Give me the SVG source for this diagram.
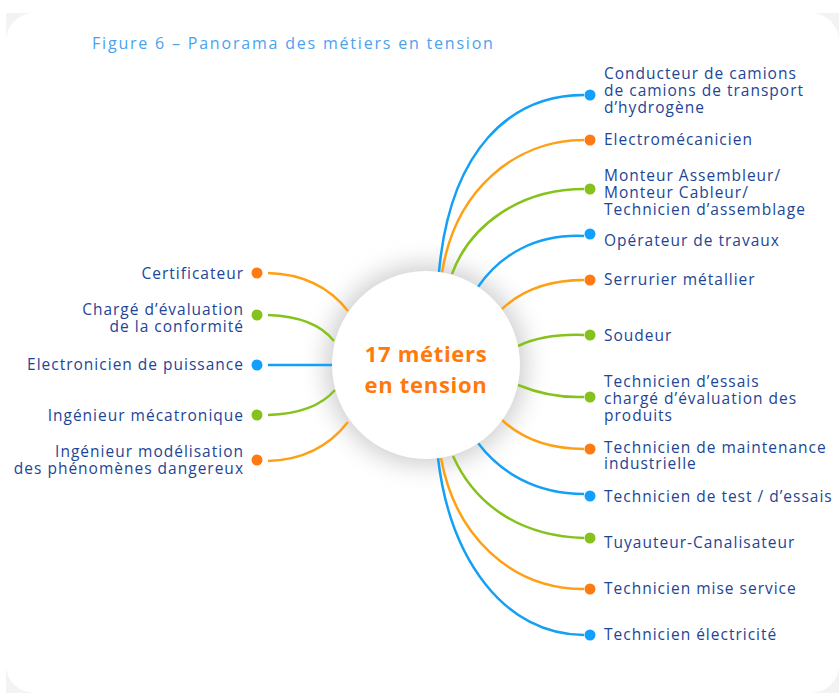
<svg xmlns="http://www.w3.org/2000/svg" width="839" height="693" viewBox="0 0 839 693">
  <defs>
    <style>
      .lbl { font-family: "Open Sans", "Liberation Sans", sans-serif; font-size: 15.5px; letter-spacing: 1px; fill: #1d4596; }
      .lbl-l { text-anchor: end; }
      .title { font-family: "Open Sans", "Liberation Sans", sans-serif; font-size: 16px; letter-spacing: 1.8px; fill: #4aa2ee; }
      .hub { font-family: "Open Sans", "Liberation Sans", sans-serif; font-size: 22px; font-weight: 700; letter-spacing: 0.7px; fill: #ff7a0a; text-anchor: middle; }
      .ln { fill: none; stroke-width: 2.5; }
      .b { stroke: #14a0f5; }
      .o { stroke: #ffa014; }
      .g { stroke: #85c21c; }
      .db { fill: #12a0ff; }
      .do { fill: #ff7a12; }
      .dg { fill: #85c21c; }
    </style>
    <filter id="hubShadow" x="-50%" y="-50%" width="200%" height="200%">
      <feGaussianBlur stdDeviation="12"/>
    </filter>
  </defs>

  <!-- page background and card -->
  <rect x="6" y="13" width="833" height="680" fill="#f3f3f3"/>
  <rect x="6" y="13" width="833" height="680" rx="28" fill="#ffffff"/>

  <text class="title" x="92" y="49">Figure 6 – Panorama des métiers en tension</text>

  <!-- soft halo behind the hub -->
  <circle cx="426" cy="365" r="100" fill="#cdcdcd" filter="url(#hubShadow)"/>

  <g id="connectors">
    <!-- right side -->
    <path class="ln b" d="M584,95 C510,95 450,150 439,272"/>
    <path class="ln o" d="M584,140 C515,140 455,190 442,273"/>
    <path class="ln g" d="M584,189 C520,189 470,225 452,274"/>
    <path class="ln b" d="M584,236 C535,234 500,255 478,287"/>
    <path class="ln o" d="M584,280 C545,280 520,292 502,309"/>
    <path class="ln g" d="M584,335 C555,334 535,338 518,346"/>
    <path class="ln g" d="M584,397 C555,398 535,392 518,385"/>
    <path class="ln o" d="M584,449 C545,449 520,437 502,420"/>
    <path class="ln b" d="M584,494 C535,494 500,472 478,443"/>
    <path class="ln g" d="M584,538 C520,536 475,505 453,456"/>
    <path class="ln o" d="M584,589 C510,589 455,535 441,458"/>
    <path class="ln b" d="M584,635 C505,635 450,560 438,458"/>
    <!-- left side -->
    <path class="ln o" d="M268,273 C305,274 330,288 348,311"/>
    <path class="ln g" d="M268,315 C300,316 322,326 334,341"/>
    <path class="ln b" d="M268,365 L334,365"/>
    <path class="ln g" d="M268,415 C300,414 322,405 335,390"/>
    <path class="ln o" d="M268,461 C305,460 330,445 348,422"/>
  </g>

  <g id="hub">
    <circle cx="426" cy="365" r="94" fill="#ffffff"/>
    <text class="hub" x="426" y="362">17 métiers</text>
    <text class="hub" x="426" y="393">en tension</text>
  </g>

  <!-- right-hand occupations -->
  <g id="n-conducteur">
    <circle class="db" cx="590" cy="95" r="5.5"/>
    <text class="lbl" x="604" y="79">Conducteur de camions</text>
    <text class="lbl" x="604" y="96">de camions de transport</text>
    <text class="lbl" x="604" y="113">d’hydrogène</text>
  </g>
  <g id="n-electromecanicien">
    <circle class="do" cx="590" cy="140" r="5.5"/>
    <text class="lbl" x="604" y="145">Electromécanicien</text>
  </g>
  <g id="n-monteur">
    <circle class="dg" cx="590" cy="189" r="5.5"/>
    <text class="lbl" x="604" y="181">Monteur Assembleur/</text>
    <text class="lbl" x="604" y="198">Monteur Cableur/</text>
    <text class="lbl" x="604" y="215">Technicien d’assemblage</text>
  </g>
  <g id="n-operateur">
    <circle class="db" cx="590" cy="234" r="5.5"/>
    <text class="lbl" x="604" y="246">Opérateur de travaux</text>
  </g>
  <g id="n-serrurier">
    <circle class="do" cx="590" cy="280" r="5.5"/>
    <text class="lbl" x="604" y="285">Serrurier métallier</text>
  </g>
  <g id="n-soudeur">
    <circle class="dg" cx="590" cy="335" r="5.5"/>
    <text class="lbl" x="604" y="341">Soudeur</text>
  </g>
  <g id="n-tech-essais">
    <circle class="dg" cx="590" cy="397" r="5.5"/>
    <text class="lbl" x="604" y="387">Technicien d’essais</text>
    <text class="lbl" x="604" y="404">chargé d’évaluation des</text>
    <text class="lbl" x="604" y="421">produits</text>
  </g>
  <g id="n-tech-maintenance">
    <circle class="do" cx="590" cy="449" r="5.5"/>
    <text class="lbl" x="604" y="453">Technicien de maintenance</text>
    <text class="lbl" x="604" y="469">industrielle</text>
  </g>
  <g id="n-tech-test">
    <circle class="db" cx="590" cy="496" r="5.5"/>
    <text class="lbl" x="604" y="502">Technicien de test / d’essais</text>
  </g>
  <g id="n-tuyauteur">
    <circle class="dg" cx="590" cy="538" r="5.5"/>
    <text class="lbl" x="604" y="548">Tuyauteur-Canalisateur</text>
  </g>
  <g id="n-mise-service">
    <circle class="do" cx="590" cy="589" r="5.5"/>
    <text class="lbl" x="604" y="594">Technicien mise service</text>
  </g>
  <g id="n-electricite">
    <circle class="db" cx="590" cy="635" r="5.5"/>
    <text class="lbl" x="604" y="640">Technicien électricité</text>
  </g>

  <!-- left-hand occupations -->
  <g id="n-certificateur">
    <circle class="do" cx="257" cy="273" r="5.5"/>
    <text class="lbl lbl-l" x="244" y="279">Certificateur</text>
  </g>
  <g id="n-charge-evaluation">
    <circle class="dg" cx="257" cy="315" r="5.5"/>
    <text class="lbl lbl-l" x="244" y="315">Chargé d’évaluation</text>
    <text class="lbl lbl-l" x="244" y="332">de la conformité</text>
  </g>
  <g id="n-electronicien">
    <circle class="db" cx="257" cy="365" r="5.5"/>
    <text class="lbl lbl-l" x="244" y="370">Electronicien de puissance</text>
  </g>
  <g id="n-mecatronique">
    <circle class="dg" cx="257" cy="415" r="5.5"/>
    <text class="lbl lbl-l" x="244" y="421">Ingénieur mécatronique</text>
  </g>
  <g id="n-modelisation">
    <circle class="do" cx="257" cy="460" r="5.5"/>
    <text class="lbl lbl-l" x="244" y="457">Ingénieur modélisation</text>
    <text class="lbl lbl-l" x="244" y="474">des phénomènes dangereux</text>
  </g>
</svg>
